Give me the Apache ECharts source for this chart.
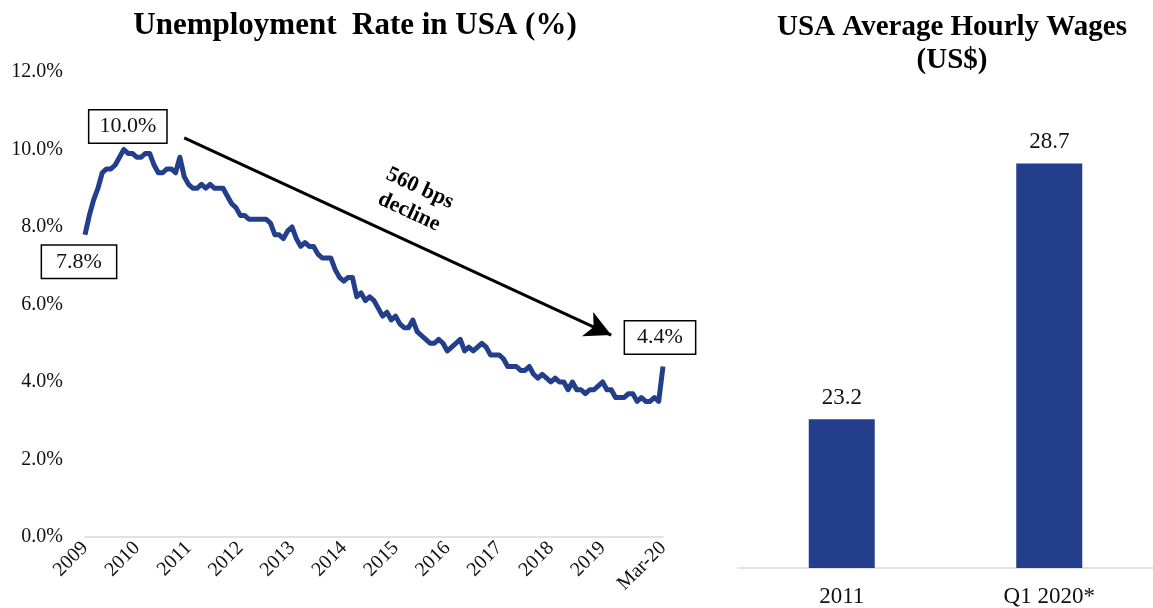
<!DOCTYPE html>
<html>
<head>
<meta charset="utf-8">
<script src="https://cdn.jsdelivr.net/npm/echarts@6/dist/echarts.min.js"></script>
<style>
  html, body { margin: 0; padding: 0; background: #fff; }
  #chart { width: 1153px; height: 608px; }
</style>
</head>
<body>
<div id="chart"></div>
<script>
// monthly unemployment rate, Jan 2009 .. Mar 2020
const unemployment = [
  7.8, 8.3, 8.7, 9.0, 9.4, 9.5, 9.5, 9.6, 9.8, 10.0, 9.9, 9.9,
  9.8, 9.8, 9.9, 9.9, 9.6, 9.4, 9.4, 9.5, 9.5, 9.4, 9.8, 9.3,
  9.1, 9.0, 9.0, 9.1, 9.0, 9.1, 9.0, 9.0, 9.0, 8.8, 8.6, 8.5,
  8.3, 8.3, 8.2, 8.2, 8.2, 8.2, 8.2, 8.1, 7.8, 7.8, 7.7, 7.9,
  8.0, 7.7, 7.5, 7.6, 7.5, 7.5, 7.3, 7.2, 7.2, 7.2, 6.9, 6.7,
  6.6, 6.7, 6.7, 6.2, 6.3, 6.1, 6.2, 6.1, 5.9, 5.7, 5.8, 5.6,
  5.7, 5.5, 5.4, 5.4, 5.6, 5.3, 5.2, 5.1, 5.0, 5.0, 5.1, 5.0,
  4.8, 4.9, 5.0, 5.1, 4.8, 4.9, 4.8, 4.9, 5.0, 4.9, 4.7, 4.7,
  4.7, 4.6, 4.4, 4.4, 4.4, 4.3, 4.3, 4.4, 4.2, 4.1, 4.2, 4.1,
  4.0, 4.1, 4.0, 4.0, 3.8, 4.0, 3.8, 3.8, 3.7, 3.8, 3.8, 3.9,
  4.0, 3.8, 3.8, 3.6, 3.6, 3.6, 3.7, 3.7, 3.5, 3.6, 3.5, 3.5,
  3.6, 3.5, 4.4
];
const yearTicks = ['2009', '2010', '2011', '2012', '2013', '2014', '2015', '2016', '2017', '2018', '2019'];
const lastTick = 'Mar-20';
const monthNames = ['Jan', 'Feb', 'Mar', 'Apr', 'May', 'Jun', 'Jul', 'Aug', 'Sep', 'Oct', 'Nov', 'Dec'];
const months = unemployment.map((v, i) => monthNames[i % 12] + '-' + String(9 + Math.floor(i / 12)).padStart(2, '0'));

// callouts: [month index, value, text, offset, padding]
const callouts = [
  [0, 7.8, '7.8%', [-6, 27], [5, 14]],
  [9, 10.0, '10.0%', [4, -23], [5, 10]],
  [134, 4.4, '4.4%', [-3, -29], [5, 12]]
];
const arrowFrom = [23, 10.3];
const arrowTo = [122.4, 5.21];
const arrowText = '560 bps\ndecline';

const wageYears = ['2011', 'Q1 2020*'];
const wages = [23.2, 28.7];

const serif = "'Liberation Serif', 'Times New Roman', serif";
const blue = '#233E8B';

const chart = echarts.init(document.getElementById('chart'));

const option = {
  animation: false,
  backgroundColor: '#fff',
  textStyle: { fontFamily: serif },
  title: [
    {
      text: 'Unemployment  Rate in USA (%)',
      left: 350, top: 5, textAlign: 'center',
      textStyle: { fontFamily: serif, fontSize: 31, fontWeight: 'bold', color: '#000' }
    },
    {
      text: 'USA Average Hourly Wages\n(US$)',
      left: 947, top: 6, textAlign: 'center',
      textStyle: { fontFamily: serif, fontSize: 29, fontWeight: 'bold', color: '#000', lineHeight: 33 }
    }
  ],
  grid: [
    { left: 85, top: 72, width: 578, height: 465 },
    { left: 738, top: 103, width: 418, height: 465 }
  ],
  xAxis: [
    {
      gridIndex: 0,
      type: 'category',
      data: months,
      boundaryGap: false,
      axisLine: { lineStyle: { color: '#d9d9d9', width: 1.5 } },
      axisTick: { show: false },
      axisLabel: {
        rotate: 45,
        margin: 8,
        fontFamily: serif,
        fontSize: 20,
        color: '#111',
        interval: 0,
        formatter: (val, idx) => {
          if (idx === months.length - 1) return lastTick;
          if (idx % 12 === 0 && idx / 12 < yearTicks.length) return yearTicks[idx / 12];
          return '';
        }
      }
    },
    {
      gridIndex: 1,
      type: 'category',
      data: wageYears,
      axisLine: { lineStyle: { color: '#d9d9d9', width: 1.5 } },
      axisTick: { show: false },
      axisLabel: { margin: 17, fontFamily: serif, fontSize: 23, color: '#111' }
    }
  ],
  yAxis: [
    {
      gridIndex: 0,
      type: 'value',
      min: 0, max: 12, interval: 2,
      axisLine: { show: false },
      axisTick: { show: false },
      splitLine: { show: false },
      axisLabel: {
        margin: 22,
        fontFamily: serif,
        fontSize: 20,
        color: '#111',
        formatter: v => v.toFixed(1) + '%'
      }
    },
    {
      gridIndex: 1,
      type: 'value',
      min: 20, max: 30,
      show: false,
      splitLine: { show: false }
    }
  ],
  series: [
    {
      type: 'line',
      xAxisIndex: 0, yAxisIndex: 0,
      data: unemployment,
      showSymbol: false,
      symbol: 'none',
      lineStyle: { color: blue, width: 5, join: 'round' },
      markPoint: {
        symbol: 'circle',
        symbolSize: 1,
        itemStyle: { color: 'transparent' },
        data: callouts.map(c => ({
          coord: [c[0], c[1]],
          value: c[2],
          label: {
            show: true,
            position: 'inside',
            offset: c[3],
            formatter: c[2],
            fontFamily: serif,
            fontSize: 22,
            color: '#111',
            backgroundColor: '#fff',
            borderColor: '#000',
            borderWidth: 1.5,
            padding: c[4]
          }
        }))
      },
      markLine: {
        silent: true,
        symbol: ['none', 'arrow'],
        symbolSize: [20, 26],
        lineStyle: { color: '#000', width: 3, type: 'solid' },
        label: {
          show: true,
          position: 'middle',
          distance: 14,
          formatter: arrowText,
          fontFamily: serif,
          fontSize: 22,
          fontWeight: 'bold',
          color: '#000',
          lineHeight: 26
        },
        data: [[{ coord: arrowFrom }, { coord: arrowTo }]]
      }
    },
    {
      type: 'bar',
      xAxisIndex: 1, yAxisIndex: 1,
      data: wages,
      barWidth: 66,
      itemStyle: { color: blue },
      label: {
        show: true,
        position: 'top',
        distance: 10,
        fontFamily: serif,
        fontSize: 23,
        color: '#111',
        formatter: p => p.value.toFixed(1)
      }
    }
  ]
};

chart.setOption(option);
window.addEventListener('resize', () => chart.resize());
</script>
</body>
</html>
